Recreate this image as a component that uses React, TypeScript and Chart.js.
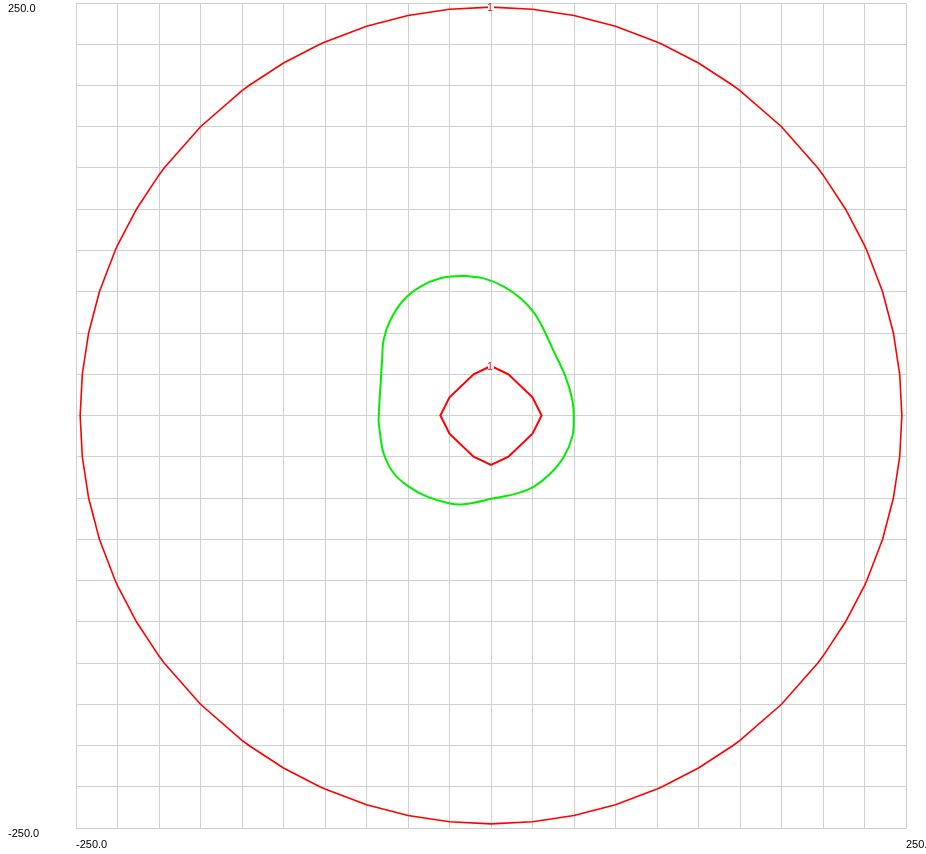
import React, { useEffect, useRef } from "react";
import { Chart, registerables } from "chart.js";

Chart.register(...registerables);

// Axis range and tick labels
const axisMin = -250;
const axisMax = 250;
const gridStep = 25;
const xLabelValues = [-250, 250];
const yLabelValues = [250, -250];

// Outer red contour (level 1)
const outerX = [
  0, 25, 50, 75, 100, 103.1, 125, 145.8, 150, 175, 196.9, 200, 213.6, 225, 226.4, 235.9, 242.4, 246.2, 247.5,
  246.2, 242.4, 235.9, 226.4, 225, 213.6, 200, 196.9, 175, 150, 145.8, 125, 103.1, 100, 75, 50, 25, 0,
  -25, -50, -75, -100, -103.1, -125, -145.8, -150, -175, -196.9, -200, -213.6, -225, -226.4, -235.9, -242.4, -246.2, -247.5,
  -246.2, -242.4, -235.9, -226.4, -225, -213.6, -200, -196.9, -175, -150, -145.8, -125, -103.1, -100, -75, -50, -25, 0,
];
const outerY = [
  247.5, 246.2, 242.4, 235.9, 226.4, 225, 213.6, 200, 196.9, 175, 150, 145.8, 125, 103.1, 100, 75, 50, 25, 0,
  -25, -50, -75, -100, -103.1, -125, -145.8, -150, -175, -196.9, -200, -213.6, -225, -226.4, -235.9, -242.4, -246.2, -247.5,
  -246.2, -242.4, -235.9, -226.4, -225, -213.6, -200, -196.9, -175, -150, -145.8, -125, -103.1, -100, -75, -50, -25, 0,
  25, 50, 75, 100, 103.1, 125, 145.8, 150, 175, 196.9, 200, 213.6, 225, 226.4, 235.9, 242.4, 246.2, 247.5,
];

// Inner red contour (level 1)
const innerX = [0, 10.5, 25, 30.5, 25, 10.5, 0, -10.5, -25, -30.5, -25, -10.5, 0];
const innerY = [30, 25, 11, 0, -11, -25, -30, -25, -11, 0, 11, 25, 30];

// Green contour
const greenX = [
  -16.4, -4.3, 7.7, 17.8, 25.4, 30.9, 37.9, 44.9, 49.0, 49.9, 49.0, 43.9, 35.9, 25.8, 15.8, 1.7,
  -16.4, -25.5, -38.5, -49.6, -58.6, -64.7, -67.1, -67.7, -66.6, -65.6, -64.7, -60.6, -52.6, -42.5, -30.5, -16.4,
];
const greenY = [
  84.7, 83.1, 78.1, 71.0, 62.9, 53.8, 38.7, 23.5, 9.4, -0.7, -12.8, -25.0, -35.0, -43.1, -47.2, -50.2,
  -53.8, -53.2, -49.2, -43.1, -35.0, -22.9, -8.8, -2.7, 17.5, 33.6, 45.8, 57.9, 70.0, 78.1, 83.2, 84.7,
];

// Contour level labels
const contourLabelX = [0, 0];
const contourLabelY = [247.5, 30];
const contourLabelText = ["1", "1"];

const zip = (xs: number[], ys: number[]) => xs.map((x, i) => ({ x, y: ys[i] }));

const labelsPlugin = {
  id: "cornerLabels",
  afterDatasetsDraw(chart: any) {
    const { ctx, scales } = chart;
    const xs = scales.x;
    const ys = scales.y;
    ctx.save();
    ctx.font = "10px 'Liberation Sans', Arial, sans-serif";
    ctx.textAlign = "center";
    ctx.textBaseline = "middle";
    contourLabelText.forEach((t, i) => {
      const px = xs.getPixelForValue(contourLabelX[i]);
      const py = ys.getPixelForValue(contourLabelY[i]);
      ctx.fillStyle = "#ffffff";
      ctx.fillRect(px - 3, py - 3, 6, 6);
      ctx.fillStyle = "#ff0000";
      ctx.fillText(t, px - 1, py + 1);
    });
    ctx.restore();
  },
  afterDraw(chart: any) {
    const { ctx, scales } = chart;
    const xs = scales.x;
    const ys = scales.y;
    ctx.save();
    ctx.font = "11px 'Liberation Sans', Arial, sans-serif";
    ctx.fillStyle = "#000000";
    ctx.textBaseline = "middle";
    ctx.textAlign = "left";
    yLabelValues.forEach((v) => {
      const py = ys.getPixelForValue(v);
      ctx.fillText(v.toFixed(1), 8, py + 6);
    });
    xLabelValues.forEach((v) => {
      const px = xs.getPixelForValue(v);
      ctx.fillText(v.toFixed(1), px, xs.bottom - 9);
    });
    ctx.restore();
  },
};

export default function App() {
  const ref = useRef<HTMLCanvasElement | null>(null);
  useEffect(() => {
    if (!ref.current) return;
    const gridColor = "#d0d0d0";
    const chart = new Chart(ref.current, {
      type: "scatter",
      data: {
        datasets: [
          {
            data: zip(outerX, outerY),
            showLine: true,
            borderColor: "#ff0000",
            borderWidth: 1.6,
            pointRadius: 0,
            tension: 0,
          },
          {
            data: zip(innerX, innerY),
            showLine: true,
            borderColor: "#ff0000",
            borderWidth: 2,
            pointRadius: 0,
            tension: 0,
          },
          {
            data: zip(greenX, greenY),
            showLine: true,
            borderColor: "#00ee00",
            borderWidth: 2,
            pointRadius: 0,
            tension: 0.35,
          },
        ],
      },
      options: {
        animation: false,
        responsive: true,
        maintainAspectRatio: false,
        layout: { padding: { left: 0, top: 3, right: 20, bottom: 0 } },
        plugins: { legend: { display: false }, tooltip: { enabled: false } },
        scales: {
          x: {
            type: "linear",
            min: axisMin,
            max: axisMax,
            ticks: { display: false, stepSize: gridStep },
            grid: { color: gridColor, drawTicks: false, lineWidth: 1 },
            border: { display: true, color: gridColor },
            afterFit: (s: any) => {
              s.height = 26;
            },
          },
          y: {
            type: "linear",
            min: axisMin,
            max: axisMax,
            ticks: { display: false, stepSize: gridStep },
            grid: { color: gridColor, drawTicks: false, lineWidth: 1 },
            border: { display: true, color: gridColor },
            afterFit: (s: any) => {
              s.width = 76;
            },
          },
        },
      },
      plugins: [labelsPlugin],
    });
    return () => chart.destroy();
  }, []);
  return (
    <div style={{ position: "fixed", left: 0, top: 0, width: 926, height: 854, background: "#fff" }}>
      <canvas ref={ref} />
    </div>
  );
}
